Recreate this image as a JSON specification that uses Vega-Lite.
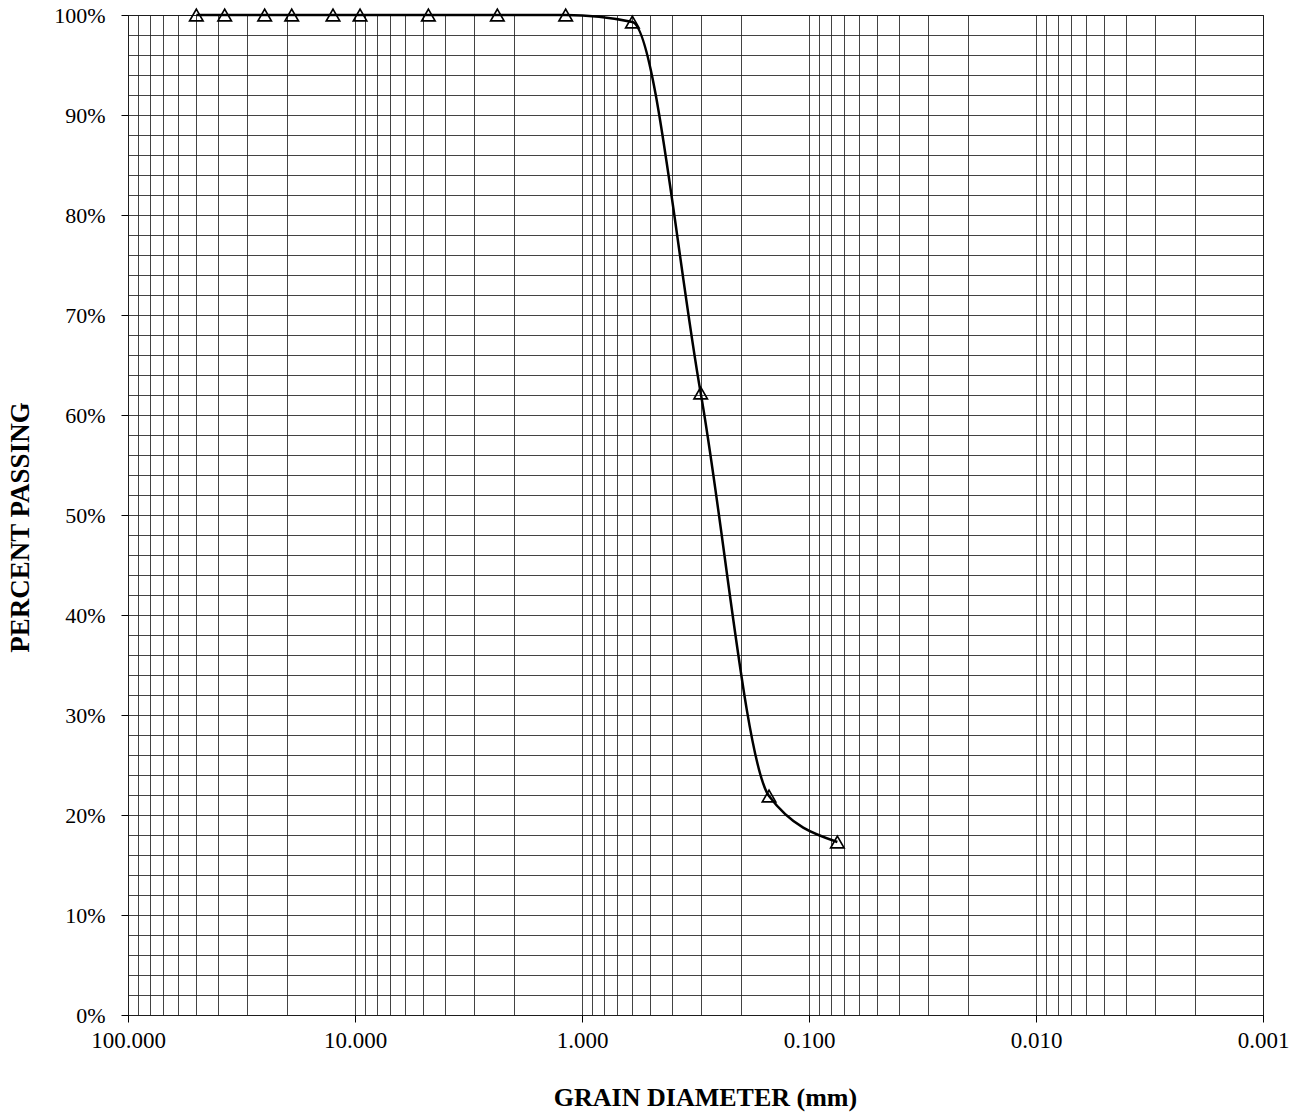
{
  "$schema": "https://vega.github.io/schema/vega-lite/v6.json",
  "autosize": "none",
  "width": 1135,
  "height": 1000,
  "padding": {"left": 128, "top": 15, "right": 36, "bottom": 105},
  "background": "white",
  "config": {
    "font": "Liberation Serif",
    "view": {"stroke": "black", "strokeWidth": 1}
  },
  "data": {"values": [
    {"d": 50, "p": 100},
    {"d": 37.5, "p": 100},
    {"d": 25, "p": 100},
    {"d": 19, "p": 100},
    {"d": 12.5, "p": 100},
    {"d": 9.5, "p": 100},
    {"d": 4.75, "p": 100},
    {"d": 2.36, "p": 100},
    {"d": 1.18, "p": 100},
    {"d": 0.6, "p": 99.3},
    {"d": 0.3, "p": 62.2},
    {"d": 0.15, "p": 21.9},
    {"d": 0.075, "p": 17.3}
  ]},
  "encoding": {
    "x": {
      "field": "d", "type": "quantitative",
      "scale": {"type": "log", "domain": [0.001, 100], "reverse": true, "nice": false},
      "axis": {
        "title": "GRAIN DIAMETER (mm)",
        "titleFont": "Liberation Serif", "titleFontSize": 26, "titleFontWeight": "bold", "titleColor": "black",
        "titleX": 577, "titleY": 82, "titleBaseline": "middle", "titleAlign": "center",
        "values": [100,90,80,70,60,50,40,30,20,10,9,8,7,6,5,4,3,2,1,0.9,0.8,0.7,0.6,0.5,0.4,0.3,0.2,0.1,0.09,0.08,0.07,0.06,0.05,0.04,0.03,0.02,0.01,0.009,0.008,0.007,0.006,0.005,0.004,0.003,0.002,0.001],
        "labelExpr": "abs(log(datum.value)/LN10 - round(log(datum.value)/LN10)) < 1e-6 ? format(datum.value, '.3f') : ''",
        "labelFont": "Liberation Serif", "labelFontSize": 23, "labelColor": "black",
        "labelPadding": 7, "labelFlush": false, "labelOverlap": false,
        "grid": true, "gridColor": "#222", "gridWidth": 1, "gridOpacity": 0.85,
        "domain": false,
        "tickColor": "black", "tickSize": 7,
        "tickOpacity": {"condition": {"test": "abs(log(datum.value)/LN10 - round(log(datum.value)/LN10)) < 1e-6", "value": 1}, "value": 0}
      }
    },
    "y": {
      "field": "p", "type": "quantitative",
      "scale": {"domain": [0, 100], "nice": false},
      "axis": {
        "title": "PERCENT PASSING",
        "titleFont": "Liberation Serif", "titleFontSize": 27, "titleFontWeight": "bold", "titleColor": "black",
        "titleX": -108, "titleY": 512, "titleAngle": -90, "titleBaseline": "middle", "titleAlign": "center",
        "values": [0,2,4,6,8,10,12,14,16,18,20,22,24,26,28,30,32,34,36,38,40,42,44,46,48,50,52,54,56,58,60,62,64,66,68,70,72,74,76,78,80,82,84,86,88,90,92,94,96,98,100],
        "labelExpr": "datum.value % 10 == 0 ? datum.value + '%' : ''",
        "labelFont": "Liberation Serif", "labelFontSize": 22, "labelColor": "black",
        "labelPadding": 16, "labelFlush": false, "labelOverlap": false,
        "grid": true, "gridColor": "#222", "gridWidth": 1, "gridOpacity": 0.85,
        "domain": false,
        "tickColor": "black", "tickSize": 7,
        "tickOpacity": {"condition": {"test": "datum.value % 10 == 0", "value": 1}, "value": 0}
      }
    }
  },
  "layer": [
    {
      "mark": {"type": "line", "color": "black", "strokeWidth": 2.5, "interpolate": "monotone"},
      "encoding": {"order": {"field": "d", "sort": "descending"}}
    },
    {
      "mark": {"type": "point", "shape": "triangle-up", "filled": false, "color": "black", "strokeWidth": 1.7, "size": 180, "opacity": 1}
    }
  ]
}
